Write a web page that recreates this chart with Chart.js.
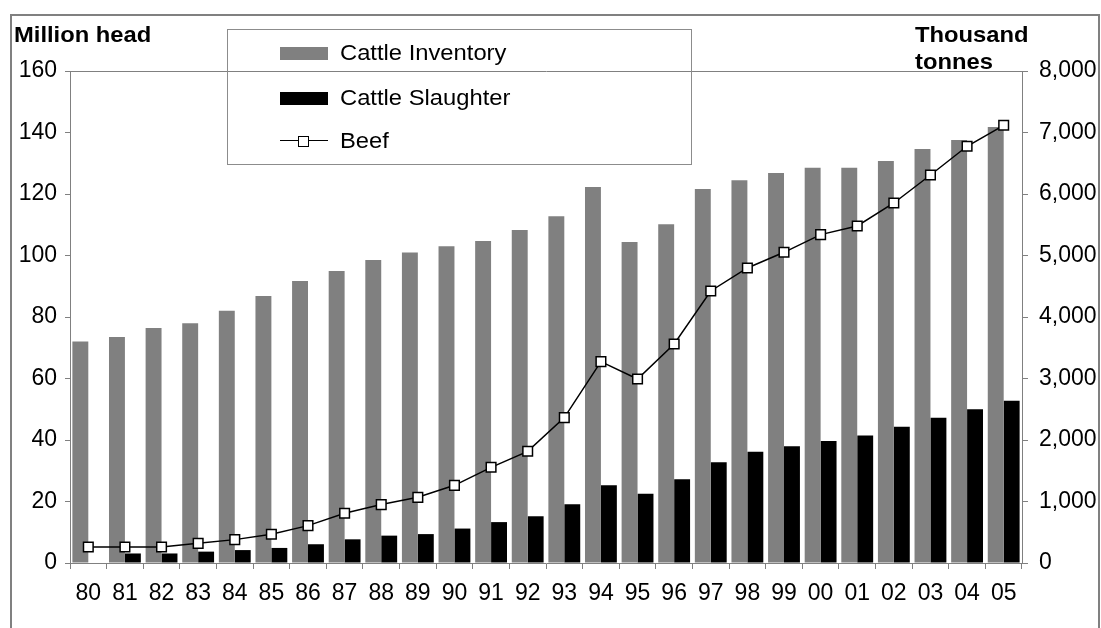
<!DOCTYPE html>
<html><head><meta charset="utf-8">
<script src="https://cdn.jsdelivr.net/npm/chart.js@4"></script>
<style>
html,body{margin:0;padding:0;background:#fff;overflow:hidden;width:1101px;height:628px;}
#wrap{position:relative;width:1101px;height:628px;font-family:"Liberation Sans",Arial,sans-serif;color:#000;}
canvas{position:absolute;left:0;top:0;}
#frame{position:absolute;left:10px;top:14px;width:1086px;height:700px;border:2px solid #808080;pointer-events:none;}
.title{position:absolute;font-weight:bold;font-size:22px;line-height:27px;white-space:nowrap;transform:scaleX(1.08);transform-origin:0 0;}
#legend{position:absolute;left:227px;top:29px;width:463px;height:134px;border:1px solid #8c8c8c;}
.row{position:absolute;left:0;height:30px;width:100%;}
.sw{position:absolute;left:52px;top:9px;width:48px;height:13px;}
.lab{position:absolute;left:112px;top:0;font-size:22px;line-height:30px;white-space:nowrap;transform:scaleX(1.08);transform-origin:0 0;}
.ln{position:absolute;left:52px;top:14px;width:48px;height:0;border-top:1.5px solid #000;}
.mk{position:absolute;left:70px;top:9px;width:9px;height:9px;border:1.5px solid #000;background:#fff;}
</style></head>
<body><div id="wrap">
<canvas id="c" width="1101" height="628"></canvas>
<div id="frame"></div>
<div class="title" style="left:14px;top:21px;">Million head</div>
<div class="title" style="left:915px;top:21px;">Thousand<br>tonnes</div>
<div id="legend"></div>
</div>
<script>
const years = ["80","81","82","83","84","85","86","87","88","89","90","91","92","93","94","95","96","97","98","99","00","01","02","03","04","05"];
const cattleInventory = [72,73.5,76.4,78,82,86.8,91.7,95,98.5,101,103,104.7,108.3,112.8,122.3,104.4,110.2,121.6,124.5,126.8,128.5,128.5,130.7,134.6,137.6,141.8];
const cattleSlaughter = [0,3.1,3.1,3.7,4.2,4.9,6.1,7.7,8.9,9.4,11.2,13.3,15.2,19.1,25.3,22.5,27.2,32.8,36.2,38,39.7,41.5,44.3,47.2,50,52.8];
const beef = [260,260,260,320,380,467,608,808,950,1068,1263,1556,1816,2364,3275,2992,3561,4423,4797,5052,5340,5480,5854,6309,6776,7117];
const leftTicks = [0,20,40,60,80,100,120,140,160];
const rightTicks = [0,1000,2000,3000,4000,5000,6000,7000,8000];

const FONT = {family:'"Liberation Sans", Arial, sans-serif', size:23};
const GRAY = '#808080';

const chart = new Chart(document.getElementById('c'), {
  data: {
    labels: years,
    datasets: [
      {type:'line', label:'Beef', data: beef, yAxisID:'y1', order:0,
       borderColor:'#000', borderWidth:1.5, pointStyle:'rect', pointRadius:6.8,
       pointBackgroundColor:'#fff', pointBorderColor:'#000', pointBorderWidth:1.5, tension:0},
      {type:'bar', label:'Cattle Inventory', data: cattleInventory, yAxisID:'y', order:1,
       backgroundColor:GRAY, categoryPercentage:0.87, barPercentage:1.0},
      {type:'bar', label:'Cattle Slaughter', data: cattleSlaughter, yAxisID:'y', order:1,
       backgroundColor:'#000', categoryPercentage:0.87, barPercentage:1.0}
    ]
  },
  options: {
    responsive:false, animation:false, devicePixelRatio:1,
    layout:{padding:{top:71,left:0,right:0,bottom:0}},
    plugins:{legend:{display:false}, tooltip:{enabled:false}},
    scales:{
      x:{
        offset:true,
        grid:{display:true, drawOnChartArea:false, drawTicks:true, tickLength:6, color:GRAY, offset:true},
        border:{display:true, color:GRAY, width:1},
        ticks:{font:FONT, color:'#000', maxRotation:0, autoSkip:false, padding:11},
        afterFit(s){ s.height = 65; }
      },
      y:{
        position:'left', min:0, max:160,
        afterBuildTicks(s){ s.ticks = leftTicks.map(v=>({value:v})); },
        grid:{drawOnChartArea:true, drawTicks:true, tickLength:5, tickColor:GRAY,
              color:(c)=> (c.tick && c.tick.value===160) ? GRAY : 'rgba(0,0,0,0)'},
        border:{display:true, color:GRAY, width:1},
        ticks:{font:FONT, color:'#000', padding:8},
        afterFit(s){ s.width = 70; }
      },
      y1:{
        position:'right', min:0, max:8000,
        afterBuildTicks(s){ s.ticks = rightTicks.map(v=>({value:v})); },
        grid:{drawOnChartArea:false, drawTicks:true, tickLength:6, tickColor:GRAY},
        border:{display:true, color:GRAY, width:1},
        ticks:{font:FONT, color:'#000', padding:11, callback:(v)=>Number(v).toLocaleString('en-US')},
        afterFit(s){ s.width = 79; }
      }
    }
  }
});

// HTML legend built from the chart's datasets
const legendOrder = ['Cattle Inventory','Cattle Slaughter','Beef'];
const rowTops = [8, 53, 96];
const lg = document.getElementById('legend');
legendOrder.forEach((name,i)=>{
  const ds = chart.data.datasets.find(d=>d.label===name);
  const row = document.createElement('div');
  row.className='row'; row.style.top = rowTops[i]+'px';
  if (ds.type==='bar') {
    const sw = document.createElement('div'); sw.className='sw'; sw.style.background = ds.backgroundColor; row.appendChild(sw);
  } else {
    const ln = document.createElement('div'); ln.className='ln'; row.appendChild(ln);
    const mk = document.createElement('div'); mk.className='mk'; mk.style.top='10px'; row.appendChild(mk);
  }
  const lab = document.createElement('div'); lab.className='lab'; lab.textContent = ds.label; row.appendChild(lab);
  lg.appendChild(row);
});
</script>
</body></html>
